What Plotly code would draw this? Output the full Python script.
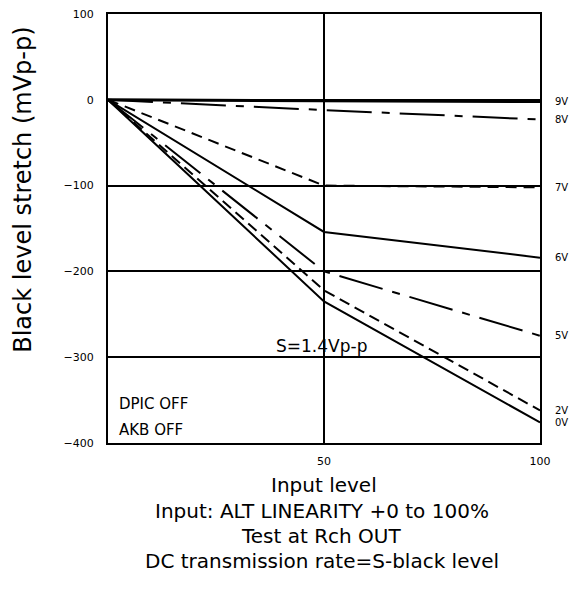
import plotly.graph_objects as go

# input level (%) at the three measured points
input_level = [0, 50, 100]

# black level stretch (mVp-p) for each supply setting
v9 = [0, -1, -2]
v8 = [0, -12, -23]
v7 = [0, -100, -102]
v6 = [0, -154, -184]
v5 = [0, -200, -275]
v2 = [0, -222, -362]
v0 = [0, -235, -376]

series = [
    ("9V", v9, "solid", 3),
    ("8V", v8, "45px,10px,8px,10px", 2),
    ("7V", v7, "11px,7px", 2),
    ("6V", v6, "solid", 2),
    ("5V", v5, "45px,10px,8px,10px", 2),
    ("2V", v2, "11px,6px", 2),
    ("0V", v0, "solid", 2),
]

FONT = "DejaVu Sans, sans-serif"

fig = go.Figure()
for name, ys, dash, w in series:
    fig.add_trace(go.Scatter(x=input_level, y=ys, mode="lines", name=name,
                             line=dict(color="black", width=w, dash=dash)))
    fig.add_annotation(x=100, y=ys[-1], text=name, showarrow=False,
                       xanchor="left", xshift=13, font=dict(size=10, color="black", family=FONT))

fig.add_annotation(x=49.5, y=-287, text="S=1.4Vp-p", showarrow=False, xanchor="center",
                   font=dict(size=17, color="black", family=FONT))
fig.add_annotation(x=2, y=-354, text="DPIC OFF", showarrow=False, xanchor="left",
                   font=dict(size=15, color="black", family=FONT))
fig.add_annotation(x=2, y=-385, text="AKB OFF", showarrow=False, xanchor="left",
                   font=dict(size=15, color="black", family=FONT))

# axis title and notes below the chart
fig.add_annotation(xref="paper", yref="paper", x=-0.197, y=0.59, text="Black level stretch (mVp-p)",
                   textangle=-90, showarrow=False, xanchor="center", yanchor="middle",
                   font=dict(size=24, color="black", family=FONT))
notes = [
    ("Input level", 0.5, -0.099),
    ("Input: ALT LINEARITY +0 to 100%", 0.495, -0.158),
    ("Test at Rch OUT", 0.495, -0.217),
    ("DC transmission rate=S-black level", 0.495, -0.276),
]
for txt, px, py in notes:
    fig.add_annotation(xref="paper", yref="paper", x=px, y=py, text=txt, showarrow=False,
                       xanchor="center", yanchor="middle",
                       font=dict(size=20, color="black", family=FONT))

fig.update_xaxes(range=[0, 100], tickvals=[50, 100], showgrid=True, gridcolor="black", gridwidth=1.5,
                 showline=True, linecolor="black", linewidth=2, mirror=True, zeroline=False,
                 ticks="", ticklabelstandoff=7, ticklabeloverflow="allow",
                 tickfont=dict(size=11, color="black", family=FONT))
fig.update_yaxes(range=[-400, 100], tickvals=[100, 0, -100, -200, -300, -400], showgrid=True,
                 gridcolor="black", gridwidth=1.5, showline=True, linecolor="black", linewidth=2,
                 mirror=True, zeroline=False, ticks="", ticklabelstandoff=10, ticklabeloverflow="allow",
                 tickfont=dict(size=11, color="black", family=FONT))

fig.update_layout(width=577, height=594, showlegend=False,
                  margin=dict(l=100, r=45, t=0, b=159),
                  plot_bgcolor="white", paper_bgcolor="white")

fig.write_html("out.html")
